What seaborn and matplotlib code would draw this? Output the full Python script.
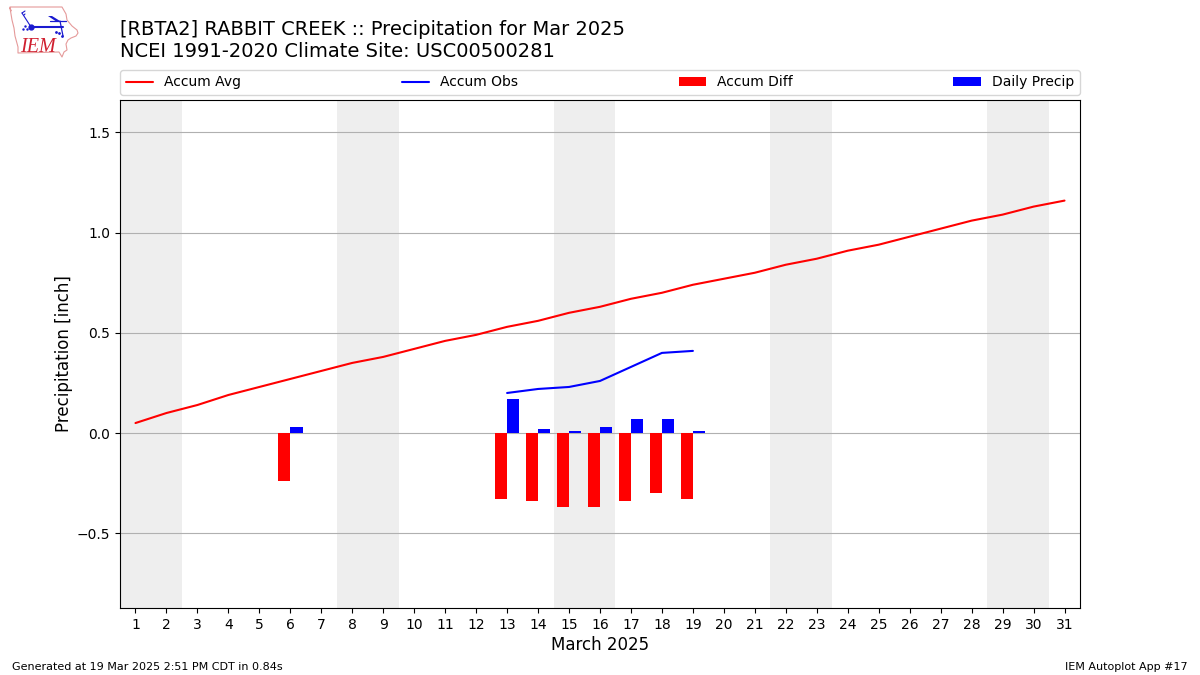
import matplotlib
matplotlib.use("Agg")
import matplotlib.pyplot as plt
import pandas as pd
import seaborn as sns

days = list(range(1, 32))
accum_avg = [0.05, 0.10, 0.14, 0.19, 0.23, 0.27, 0.31, 0.35, 0.38, 0.42, 0.46,
             0.49, 0.53, 0.56, 0.60, 0.63, 0.67, 0.70, 0.74, 0.77, 0.80, 0.84,
             0.87, 0.91, 0.94, 0.98, 1.02, 1.06, 1.09, 1.13, 1.16]
obs_days = [13, 14, 15, 16, 17, 18, 19]
accum_obs = [0.20, 0.22, 0.23, 0.26, 0.33, 0.40, 0.41]
bar_days = [6, 13, 14, 15, 16, 17, 18, 19]
accum_diff = [-0.24, -0.33, -0.34, -0.37, -0.37, -0.34, -0.30, -0.33]
daily_precip = [0.03, 0.17, 0.02, 0.01, 0.03, 0.07, 0.07, 0.01]
weekend_starts = [1, 8, 15, 22, 29]

sns.set_theme(style="ticks", rc={"axes.grid": False})
plt.rcParams["font.family"] = ["DejaVu Sans"]

fig = plt.figure(figsize=(12, 6.75), dpi=100)
ax = fig.add_axes([120 / 1200, 1 - 608 / 675, 960 / 1200, 508 / 675])

for s in weekend_starts:
    ax.axvspan(s - 0.5, s + 1.5, color="#eeeeee", lw=0, zorder=0)

sns.lineplot(data=pd.DataFrame({"d": days, "v": accum_avg}), x="d", y="v",
             color="red", lw=1.5, label="Accum Avg", ax=ax, zorder=3)
sns.lineplot(data=pd.DataFrame({"d": obs_days, "v": accum_obs}), x="d", y="v",
             color="blue", lw=1.5, label="Accum Obs", ax=ax, zorder=3)
ax.bar(bar_days, accum_diff, width=-0.4, align="edge", color="red",
       edgecolor="none", linewidth=0, label="Accum Diff", zorder=3)
ax.bar(bar_days, daily_precip, width=0.4, align="edge", color="blue",
       edgecolor="none", linewidth=0, label="Daily Precip", zorder=3)

ax.set_xlim(0.5, 31.5)
ax.set_ylim(-0.873, 1.662)
ax.set_xticks(days)
ax.set_yticks([-0.5, 0, 0.5, 1.0, 1.5])
ax.set_yticklabels(["\u22120.5", "0.0", "0.5", "1.0", "1.5"])
ax.tick_params(labelsize=10, length=3.5, width=0.8, color="black", labelcolor="black")
ax.yaxis.grid(True, color="#b0b0b0", lw=0.8, zorder=1)
ax.set_axisbelow(True)
for sp in ax.spines.values():
    sp.set_color("black")
    sp.set_linewidth(0.8)
ax.set_xlabel("March 2025", fontsize=12, color="black", labelpad=3)
ax.set_ylabel("Precipitation [inch]", fontsize=12, color="black", labelpad=3)

ax.legend(loc="lower left", bbox_to_anchor=(0, 1.0098, 1, 0.06), mode="expand", ncol=4,
          borderaxespad=0, fontsize=10, frameon=True, edgecolor="#cccccc", framealpha=0.8,
          labelcolor="black")

fig.text(120 / 1200, 1 - 35 / 675, "[RBTA2] RABBIT CREEK :: Precipitation for Mar 2025",
         fontsize=14, color="black", va="baseline")
fig.text(120 / 1200, 1 - 57 / 675, "NCEI 1991-2020 Climate Site: USC00500281",
         fontsize=14, color="black", va="baseline")
fig.text(12 / 1200, 1 - 670 / 675, "Generated at 19 Mar 2025 2:51 PM CDT in 0.84s",
         fontsize=8, color="black", va="baseline")
fig.text(1188 / 1200, 1 - 670 / 675, "IEM Autoplot App #17",
         fontsize=8, color="black", ha="right", va="baseline")

# Small IEM logo, pixel-space decoration
logo = fig.add_axes([0, 1 - 60 / 675, 85 / 1200, 60 / 675])
logo.set_xlim(0, 85)
logo.set_ylim(60, 0)
logo.axis("off")
outline_x = [10, 11, 10, 12, 62, 66, 67, 72, 77, 78, 76, 71, 68, 66, 67, 64, 62, 59, 18, 18, 15, 14, 12, 10]
outline_y = [8, 11, 7, 7, 7, 14, 20, 26, 30, 33, 36, 38, 40, 44, 50, 52, 57, 52, 53, 47, 36, 28, 20, 8]
logo.plot(outline_x, outline_y, color="#e59a9a", lw=0.8)
logo.plot([31, 63], [27, 27], color="#1a1ad0", lw=1.5)
logo.fill([48, 52, 60, 57], [16, 16, 21, 22], color="#1a1ad0", lw=0)
logo.plot([50, 66], [21, 21], color="#1a1ad0", lw=0.9)
logo.plot([60, 63], [21, 36], color="#1a1ad0", lw=0.9)
logo.plot([22, 31], [13, 27], color="#1a1ad0", lw=0.8)
logo.plot([22, 25], [13, 11], color="#1a1ad0", lw=0.8)
logo.plot([24, 25], [15, 14], color="#1a1ad0", lw=0.8)
logo.plot([31], [27], "o", color="#1a1ad0", ms=3.5)
logo.plot([23, 25, 27], [29, 26, 29], ".", color="#1a1ad0", ms=1.5)
logo.plot([56, 59, 62], [32, 33, 36], ".", color="#1a1ad0", ms=2)
logo.text(20, 52, "IEM", family="Liberation Serif", style="italic", fontsize=14.5,
          color="#d02030", va="baseline")

fig.savefig("out.png", dpi=100)
